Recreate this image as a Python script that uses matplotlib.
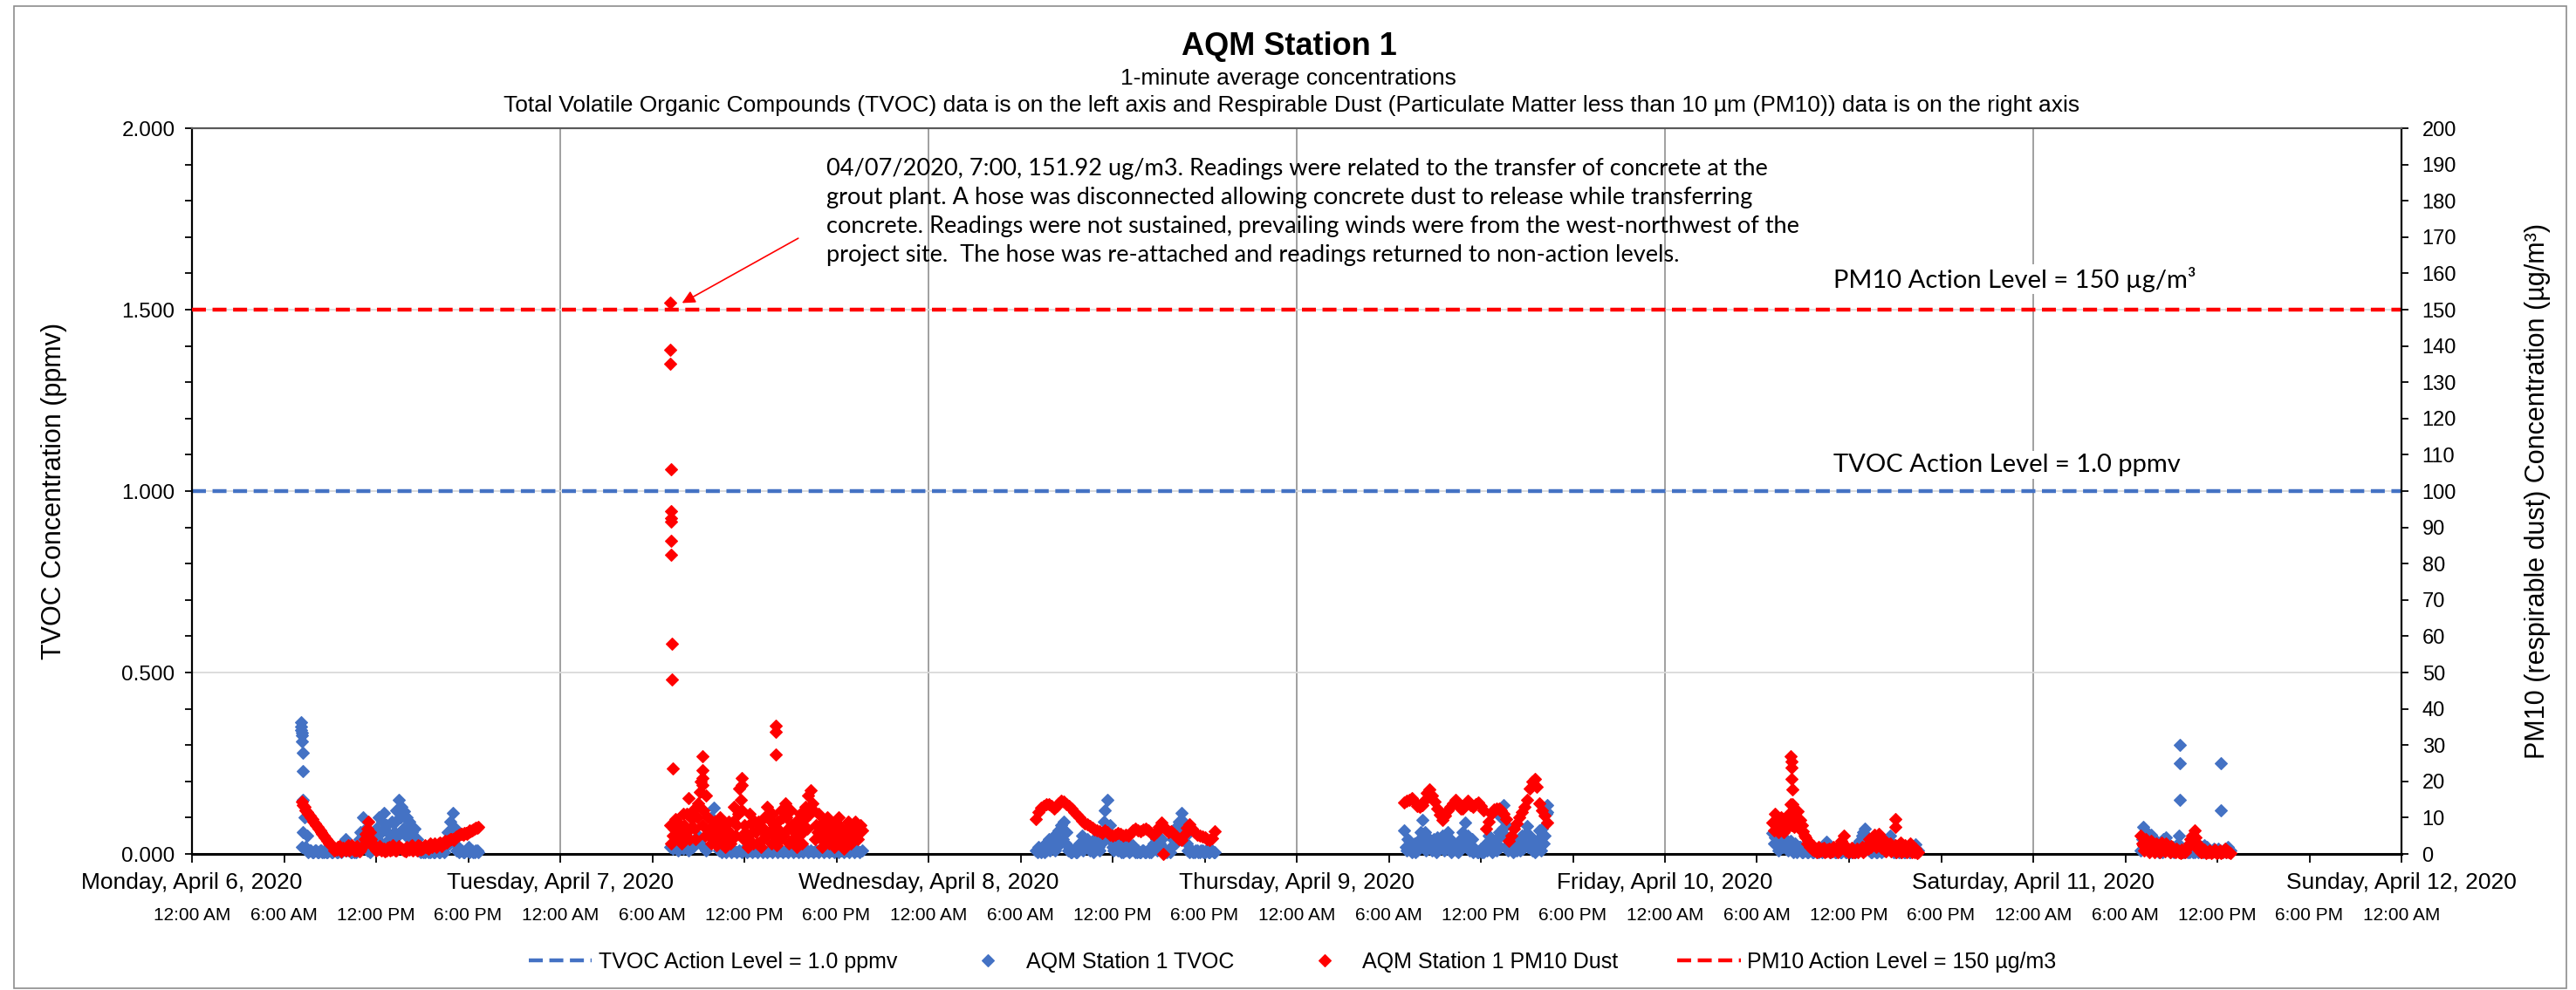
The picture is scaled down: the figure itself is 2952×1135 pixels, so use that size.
import matplotlib
matplotlib.use('Agg')
import matplotlib.pyplot as plt
import matplotlib.transforms as mtransforms
from matplotlib.lines import Line2D
from matplotlib.patches import Rectangle
import numpy as np

plt.rcParams['font.family'] = ['Liberation Sans', 'DejaVu Sans']
note_font = ['Lato', 'DejaVu Sans']

BLUE = '#4472C4'
RED = '#FF0000'

# ---- axis text ----
day_names = ['Monday, April 6, 2020', 'Tuesday, April 7, 2020', 'Wednesday, April 8, 2020',
             'Thursday, April 9, 2020', 'Friday, April 10, 2020', 'Saturday, April 11, 2020',
             'Sunday, April 12, 2020']
time_labels = ['12:00 AM', '6:00 AM', '12:00 PM', '6:00 PM'] * 6 + ['12:00 AM']

tvoc_action = 1.0
pm_action = 150

# ---- readings, 10 minute steps per day (hours from that day's midnight) ----
# the *_mid lists sit 5 minutes after each value of the main list
pm_start = [7 + 10 / 60, 7 + 10 / 60, 7.0, 7.0, 7.0, 7.0]
tvoc_start = [7 + 10 / 60, 7 + 10 / 60, 7.0, 7.0, 7.0, 7.0]

pm_apr6 = [14.5, 13, 11.5, 10.5, 9.5, 8.5, 7.5, 6.5, 5.5, 4.5, 3.5, 3, 2.2, 1.5, 2, 1.2, 1.8, 1, 2.5, 1.5,
           2, 1, 1.8, 1.2, 2.5, 5.5, 9, 4, 2, 1, 1.8, 1, 1.5, 1, 2, 1.2, 1.8, 1, 2.2, 1.5,
           1, 2, 1.2, 2.5, 1.5, 1, 2.2, 1.5, 2.5, 1.8, 2.8, 2, 3, 2.5, 3.2, 2.8, 3.5, 3.5, 4, 4,
           4.5, 5, 5.5, 5.2, 5.8, 6, 6.2, 6.8, 7.2, 7.5]
pm_apr6_mid = [13.5, 12, 11, 10, 9, 8, 7, 6, 5, 4, 3, 2.5, 1, 1.2, 2.2, 0.8, 1.5, 2, 1, 2.5,
               1, 2.2, 0.8, 2, 4, 7, 6, 3, 1.5, 1.2, 2.2, 1.5, 0.8, 1.8, 1, 2.5, 1, 1.5, 1.8, 1.2,
               0.8, 1.5, 2.2, 1, 1.8, 2.5, 1.2, 1.8, 2, 1.5, 2.2, 2.5, 2, 3, 2.2, 3, 3.2, 3.8, 4.2, 3.8,
               4.8, 5.2, 5.5, 5.8, 5.5, 6.5, 6.5, 7, 7.3]
pm_apr7 = [8, 5, 9.5, 4, 6, 11, 5, 15.5, 7, 12, 4, 14, 20, 12, 16, 5, 3, 6, 2.5, 7,
           3, 8, 4, 9, 5, 13, 8, 18, 12, 8, 4, 11, 6, 9, 3, 7, 4, 10, 13, 6,
           11, 5, 9, 4, 10, 14, 7, 12, 4, 9, 5, 11, 6, 13, 16, 17.5, 12, 8, 11, 4,
           9, 7, 3, 8, 2, 6, 10, 5, 1.5, 7, 5, 8, 6, 7, 6, 6.5]
pm_apr7_mid = [3, 7, 6.5, 8.5, 3, 8, 11, 4, 9.5, 7, 10, 17, 8, 5, 10, 7, 4.5, 9, 5, 10,
               5.5, 2, 6.5, 3, 9, 5, 11, 15, 4, 6, 2, 8.5, 3, 6, 9, 2, 7, 5, 9.5, 3,
               8, 2.5, 6.5, 12, 5, 10, 3, 8, 6, 2, 8, 3, 9.5, 7, 11, 14, 4, 6, 8, 2,
               4.5, 10, 5.5, 4, 9, 3, 7.5, 3, 4.5, 9, 3, 5, 9, 4, 8]
pm_apr8 = [9.5, 11.5, 12.8, 13.2, 13.8, 13.8, 13.2, 12.6, 13.2, 14.0, 14.6, 14.4, 13.8, 13.3, 12.5,
           11.6, 10.8, 10, 9.2, 8.4, 8.2, 7.6, 7.2, 6.8, 6.5, 6.2, 5.8, 6.5, 6, 5.4,
           5, 5.2, 5.8, 5.6, 5, 5.4, 5, 5.8, 6.4, 7, 6.6, 6.2, 6.8, 7, 6.4,
           5.8, 5.4, 6, 7.4, 8.6, 7.4, 6.6, 6, 6.2, 5.6, 4.8, 4.2, 3.8, 5.2, 7.2,
           8.2, 7, 6, 5.4, 5, 4.8, 4.6, 4.2, 3.8, 4.4, 6.2]
pm_apr9 = [14.2, 14.6, 14.8, 15.4, 14.5, 13.2, 13, 13.4, 15, 16.8, 17.8, 16, 14.5, 12.5, 10.8,
           9.4, 10.5, 12, 13, 14, 15, 14, 12.6, 12.5, 13.8, 14.6, 13.5, 13, 13.8, 14.2,
           13.2, 12, 7, 8.8, 11, 12.2, 12.4, 12.6, 12, 11, 9.5, 3.5, 5, 7, 8.5,
           10, 11.5, 13, 15, 18, 20, 20.6, 18.5, 14, 12, 10.5, 8.6]
pm_apr10 = [8.6, 11, 10, 8.5, 7.8, 9, 8.5, 13.8, 10.5, 9.5, 11.8, 9.4, 6.2, 4.5, 3.5,
            2.5, 2.2, 1.5, 2, 1, 1.8, 0.8, 1.5, 1, 2, 1.2, 2.5, 3.5, 5, 2,
            1, 1.8, 0.6, 1.5, 1, 2, 1, 2.5, 4, 3, 5.4, 3.5, 4.5, 2.5, 3.5,
            1.5, 3, 1.5, 2.5, 1, 3.2, 1.5, 2.5, 1, 2.8, 0.8, 1.5, 0.5]
pm_apr10_mid = [6.5, 9, 6, 10, 6, 7, 11, 8, 7.5, 8, 7, 8, 5, 3, 2, 1.2, 1, 0.5, 0.8, 1.5,
                0.5, 1.2, 0.4, 0.8, 1.5, 0.5, 1.8, 2.5, 1, 0.6, 0.8, 0.4, 1, 0.5, 1.2, 0.6, 2, 1.5, 2, 4.2,
                2, 5.5, 1.8, 2.5, 0.8, 2, 0.7, 1.5, 0.4, 1.8, 0.6, 1, 0.5, 1.5, 0.4, 0.6, 0.3]
pm_apr11 = [5, 2.5, 4, 1.5, 3.5, 1.2, 3, 1, 3.2, 1.5, 2.8, 1, 2.2, 0.8, 1.5, 0.5, 1.2, 0.8,
            1.5, 3, 5, 6.5, 3, 1, 0.5, 1.2, 0.5, 1, 0.4, 1.2, 0.5, 1, 0.4, 1.4, 0.8, 0.3]
pm_apr11_mid = [3, 1, 2.5, 0.5, 2, 0.5, 2, 0.5, 2, 0.8, 1.5, 0.5, 1.5, 0.4, 1, 0.3, 0.6, 0.4, 2, 4,
                3.5, 4.5, 1.5, 0.4, 0.8, 0.3, 0.6, 0.2, 0.7, 0.3, 0.6, 0.2, 0.8, 0.4, 0.6]

tvoc_apr6 = [0.02, 0.10, 0.05, 0.01, 0.005, 0.01, 0.005, 0.01, 0.005, 0.01,
             0.005, 0.01, 0.005, 0.01, 0.005, 0.02, 0.03, 0.042, 0.02, 0.005,
             0.01, 0.005, 0.02, 0.06, 0.10, 0.07, 0.03, 0.01, 0.04, 0.07,
             0.10, 0.06, 0.114, 0.08, 0.04, 0.09, 0.06, 0.12, 0.148, 0.13,
             0.118, 0.10, 0.09, 0.06, 0.07, 0.04, 0.02, 0.01, 0.005, 0.01,
             0.005, 0.01, 0.005, 0.01, 0.005, 0.01, 0.02, 0.06, 0.09, 0.114,
             0.07, 0.02, 0.01, 0.005, 0.01, 0.02, 0.01, 0.005, 0.01, 0.005]
tvoc_apr6_mid = [0.06, 0.02, 0.005, 0.01, 0.005, 0.01, 0.005, 0.01, 0.005, 0.005,
                 0.01, 0.005, 0.01, 0.005, 0.01, 0.005, 0.02, 0.01, 0.01, 0.005,
                 0.005, 0.01, 0.04, 0.02, 0.05, 0.01, 0.005, 0.02, 0.03, 0.04,
                 0.02, 0.09, 0.03, 0.06, 0.02, 0.04, 0.09, 0.05, 0.10, 0.07,
                 0.05, 0.07, 0.03, 0.04, 0.02, 0.01, 0.005, 0.005, 0.01, 0.005,
                 0.01, 0.005, 0.01, 0.005, 0.01, 0.005, 0.04, 0.03, 0.06, 0.04,
                 0.01, 0.005, 0.01, 0.005, 0.01, 0.005, 0.01, 0.005, 0.01]
tvoc_apr7 = [0.02, 0.015, 0.025, 0.01, 0.02, 0.015, 0.02, 0.01, 0.015, 0.02,
             0.03, 0.05, 0.04, 0.02, 0.01, 0.06, 0.10, 0.128, 0.05, 0.01,
             0.005, 0.01, 0.005, 0.015, 0.005, 0.01, 0.005, 0.01, 0.005, 0.015,
             0.005, 0.01, 0.005, 0.01, 0.005, 0.015, 0.005, 0.01, 0.005, 0.01,
             0.005, 0.015, 0.005, 0.01, 0.005, 0.01, 0.005, 0.015, 0.005, 0.01,
             0.005, 0.01, 0.005, 0.015, 0.005, 0.01, 0.005, 0.01, 0.005, 0.015,
             0.005, 0.01, 0.005, 0.01, 0.005, 0.015, 0.005, 0.01, 0.005, 0.01,
             0.005, 0.015, 0.005, 0.01, 0.005, 0.01]
tvoc_apr8 = [0.01, 0.02, 0.005, 0.025, 0.01, 0.04, 0.02, 0.05, 0.03, 0.065,
             0.08, 0.09, 0.06, 0.02, 0.005, 0.01, 0.005, 0.03, 0.05, 0.02,
             0.04, 0.01, 0.035, 0.02, 0.04, 0.01, 0.05, 0.12, 0.15, 0.08,
             0.02, 0.04, 0.01, 0.03, 0.005, 0.01, 0.03, 0.01, 0.025, 0.005,
             0.01, 0.005, 0.01, 0.005, 0.01, 0.005, 0.03, 0.04, 0.02, 0.04,
             0.01, 0.005, 0.01, 0.02, 0.06, 0.075, 0.09, 0.114, 0.07, 0.03,
             0.005, 0.01, 0.005, 0.01, 0.005, 0.01, 0.005, 0.01, 0.005, 0.01, 0.005]
tvoc_apr8_mid = [0.005, 0.01, 0.015, 0.005, 0.02, 0.01, 0.03, 0.01, 0.04, 0.03,
                 0.04, 0.03, 0.01, 0.005, 0.01, 0.005, 0.015, 0.02, 0.01, 0.03,
                 0.02, 0.025, 0.005, 0.03, 0.02, 0.03, 0.09, 0.07, 0.04, 0.05,
                 0.01, 0.02, 0.015, 0.005, 0.02, 0.015, 0.005, 0.015, 0.01, 0.005,
                 0.005, 0.01, 0.005, 0.01, 0.005, 0.015, 0.02, 0.01, 0.03, 0.02,
                 0.005, 0.01, 0.005, 0.04, 0.03, 0.05, 0.06, 0.09, 0.05, 0.01,
                 0.01, 0.005, 0.01, 0.005, 0.01, 0.005, 0.01, 0.005, 0.01, 0.005]
tvoc_apr9 = [0.066, 0.01, 0.035, 0.005, 0.03, 0.01, 0.04, 0.094, 0.06, 0.02,
             0.04, 0.01, 0.03, 0.045, 0.02, 0.05, 0.03, 0.06, 0.04, 0.015,
             0.02, 0.005, 0.04, 0.06, 0.086, 0.05, 0.02, 0.005, 0.01, 0.005,
             0.015, 0.005, 0.03, 0.05, 0.04, 0.02, 0.01, 0.06, 0.1, 0.134,
             0.08, 0.03, 0.02, 0.04, 0.01, 0.035, 0.05, 0.03, 0.078, 0.05,
             0.01, 0.005, 0.03, 0.065, 0.07, 0.05, 0.134]
tvoc_apr9_mid = [0.02, 0.04, 0.015, 0.02, 0.005, 0.025, 0.06, 0.03, 0.01, 0.03,
                 0.02, 0.04, 0.005, 0.015, 0.035, 0.01, 0.045, 0.02, 0.005, 0.03,
                 0.01, 0.025, 0.02, 0.035, 0.03, 0.01, 0.04, 0.015, 0.005, 0.01,
                 0.005, 0.02, 0.01, 0.025, 0.005, 0.035, 0.04, 0.02, 0.07, 0.05,
                 0.01, 0.045, 0.005, 0.025, 0.02, 0.01, 0.015, 0.055, 0.02, 0.03,
                 0.02, 0.015, 0.04, 0.01, 0.03, 0.11]
tvoc_apr10 = [0.058, 0.045, 0.03, 0.05, 0.02, 0.04, 0.01, 0.035, 0.005, 0.03,
              0.01, 0.02, 0.005, 0.01, 0.005, 0.015, 0.005, 0.01, 0.005, 0.015,
              0.01, 0.034, 0.02, 0.005, 0.01, 0.005, 0.015, 0.005, 0.01, 0.005,
              0.01, 0.005, 0.02, 0.01, 0.035, 0.05, 0.07, 0.03, 0.01, 0.005,
              0.015, 0.005, 0.01, 0.02, 0.01, 0.03, 0.05, 0.02, 0.005, 0.01,
              0.005, 0.015, 0.005, 0.01, 0.005, 0.015, 0.026, 0.01]
tvoc_apr10_mid = [0.03, 0.06, 0.01, 0.025, 0.045, 0.015, 0.025, 0.02, 0.015, 0.005,
                  0.02, 0.005, 0.01, 0.005, 0.01, 0.005, 0.01, 0.005, 0.01, 0.005,
                  0.02, 0.015, 0.005, 0.01, 0.005, 0.01, 0.005, 0.015, 0.005, 0.01,
                  0.005, 0.01, 0.005, 0.025, 0.02, 0.06, 0.04, 0.015, 0.005, 0.01,
                  0.005, 0.01, 0.005, 0.01, 0.02, 0.04, 0.01, 0.005, 0.015, 0.005,
                  0.01, 0.005, 0.01, 0.005, 0.02, 0.015, 0.005]
tvoc_apr11 = [0.01, 0.074, 0.04, 0.02, 0.054, 0.01, 0.03, 0.005, 0.02, 0.04,
              0.046, 0.02, 0.01, 0.005, 0.015, 0.05, 0.01, 0.005, 0.01, 0.005,
              0.01, 0.005, 0.015, 0.025, 0.02, 0.025, 0.02, 0.01, 0.005, 0.01,
              0.005, 0.01, 0.005, 0.015, 0.02, 0.01]
tvoc_apr11_mid = [0.04, 0.02, 0.06, 0.01, 0.02, 0.04, 0.01, 0.03, 0.005, 0.025,
                  0.03, 0.005, 0.02, 0.01, 0.03, 0.02, 0.005, 0.015, 0.005, 0.015,
                  0.005, 0.01, 0.005, 0.02, 0.005, 0.015, 0.01, 0.005, 0.015, 0.005,
                  0.015, 0.005, 0.01, 0.005, 0.01]

# ---- single minute readings that stand out (hours since Apr 6 00:00) ----
pm_peak_hours = [31.15, 31.15, 31.17, 31.2, 31.25, 31.23, 31.23, 31.25, 31.22, 31.3, 31.3, 31.32,
                 33.27, 33.27, 33.27, 33.27, 35.85, 35.85, 38.05, 38.05, 38.05,
                 63.28,
                 104.2, 104.22, 104.25, 104.27, 104.3, 104.33, 104.35, 111.0, 111.02]
pm_peak_vals = [151.92, 139, 135, 106, 94.5, 92.6, 91.5, 86.3, 82.4, 58, 48, 23.5,
                27, 23, 21, 19, 21, 19, 35.4, 33.6, 27.4,
                0.0,
                27, 25.4, 23.8, 20.6, 17.8, 13.8, 11.8, 9.6, 7.4]
tvoc_peak_hours = [7.1, 7.12, 7.13, 7.15, 7.17, 7.18, 7.2, 7.22, 7.23,
                   88.3, 129.56, 129.56, 129.56, 132.22, 132.22]
tvoc_peak_vals = [0.362, 0.352, 0.342, 0.334, 0.326, 0.31, 0.278, 0.228, 0.15,
                  0.115, 0.30, 0.25, 0.15, 0.25, 0.12]

pm_days = [pm_apr6, pm_apr7, pm_apr8, pm_apr9, pm_apr10, pm_apr11]
pm_days_mid = [pm_apr6_mid, pm_apr7_mid, [], [], pm_apr10_mid, pm_apr11_mid]
tvoc_days = [tvoc_apr6, tvoc_apr7, tvoc_apr8, tvoc_apr9, tvoc_apr10, tvoc_apr11]
tvoc_days_mid = [tvoc_apr6_mid, [], tvoc_apr8_mid, tvoc_apr9_mid, tvoc_apr10_mid, tvoc_apr11_mid]


def day_series(days, mids, starts, extra_h, extra_v):
    xs, ys = [], []
    for d, (vals, mid, st) in enumerate(zip(days, mids, starts)):
        xs.extend(d * 24 + st + np.arange(len(vals)) / 6.0)
        ys.extend(vals)
        xs.extend(d * 24 + st + 1 / 12 + np.arange(len(mid)) / 6.0)
        ys.extend(mid)
    xs.extend(extra_h)
    ys.extend(extra_v)
    return np.array(xs), np.array(ys)


pm_x, pm_y = day_series(pm_days, pm_days_mid, pm_start, pm_peak_hours, pm_peak_vals)
tv_x, tv_y = day_series(tvoc_days, tvoc_days_mid, tvoc_start, tvoc_peak_hours, tvoc_peak_vals)

W, H = 2952, 1135
fig = plt.figure(figsize=(W / 100, H / 100), dpi=100)
fig.patches.append(Rectangle((16 / W, 2 / H), (2941 - 16) / W, (1128 - 2) / H, transform=fig.transFigure,
                             fill=False, edgecolor='#8C8C8C', linewidth=1.2))

ax = fig.add_axes([220 / W, (H - 979) / H, (2752 - 220) / W, (979 - 147) / H])
ax2 = ax.twinx()

# grid
ax.set_ylim(0, 2.0)
ax.set_xlim(0, 144)
ax.set_yticks([0, 0.5, 1.0, 1.5, 2.0])
ax.set_yticks(np.arange(0, 2.001, 0.1), minor=True)
ax.yaxis.grid(True, color='#D9D9D9', linewidth=1.3, zorder=0)
for d in range(1, 6):
    ax.axvline(d * 24, color='#A0A0A0', linewidth=1.4, zorder=0.5)
ax.set_axisbelow(True)

# action levels
dash = (0, (3.6, 1.7))
ax.axhline(tvoc_action, color=BLUE, linewidth=3.2, linestyle=dash, zorder=1)
ax2.axhline(pm_action, color=RED, linewidth=3.2, linestyle=dash, zorder=1)

# readings
ms, mew = 7.0, 0.8
ax.plot(tv_x, tv_y, linestyle='None', marker='D', markersize=ms, markeredgewidth=mew,
        color=BLUE, zorder=3, clip_on=False)
ax2.plot(pm_x, pm_y, linestyle='None', marker='D', markersize=ms, markeredgewidth=mew,
         color=RED, zorder=3, clip_on=False)

# x axis
ax.set_xticks(np.arange(0, 145, 6))
ax.set_xticklabels(time_labels, fontsize=15)
ax.tick_params(axis='x', length=7, width=1.3, pad=37, direction='out')
trans = mtransforms.blended_transform_factory(ax.transData, ax.transAxes)
for d, name in enumerate(day_names):
    ax.text(d * 24, -0.040, name, transform=trans, ha='center', va='center', fontsize=19)

# left axis
ax.yaxis.set_major_formatter(matplotlib.ticker.FormatStrFormatter('%.3f'))
ax.tick_params(axis='y', which='both', length=6, width=1.3, labelsize=17.5, pad=8)
ax.set_ylabel('TVOC Concentration (ppmv)', fontsize=22)
ax.yaxis.set_label_coords((62 - 220) / 2532, 0.5)
ax.yaxis.label.set_verticalalignment('center')

# right axis
ax2.set_ylim(0, 200)
ax2.set_yticks(np.arange(0, 201, 10))
ax2.tick_params(axis='y', length=6, width=1.3, labelsize=17, pad=11)
ax2.set_ylabel('PM10 (respirable dust) Concentration (\u00b5g/m\u00b3)', fontsize=22)
ax2.yaxis.set_label_coords((2908 - 220) / 2532, 0.5)
ax2.yaxis.label.set_verticalalignment('center')

for a in (ax, ax2):
    a.spines['top'].set_color('#595959')
    a.spines['top'].set_linewidth(1.5)
ax.spines['left'].set_linewidth(1.6)
ax.spines['bottom'].set_linewidth(2.2)
ax2.spines['right'].set_linewidth(1.6)
ax.spines['right'].set_visible(False)
ax2.spines['left'].set_visible(False)
ax2.spines['bottom'].set_visible(False)

# titles
fig.text(0.5003, 1 - 63 / H, 'AQM Station 1', ha='center', va='baseline', fontsize=26, fontweight='bold')
fig.text(0.5003, 1 - 97 / H, '1-minute average concentrations', ha='center', va='baseline', fontsize=19)
fig.text(0.5013, 1 - 128 / H,
         'Total Volatile Organic Compounds (TVOC) data is on the left axis and Respirable Dust '
         '(Particulate Matter less than 10 \u00b5m (PM10)) data is on the right axis',
         ha='center', va='baseline', fontsize=19)

# notes
note = ('04/07/2020, 7:00, 151.92 ug/m3. Readings were related to the transfer of concrete at the\n'
        'grout plant. A hose was disconnected allowing concrete dust to release while transferring\n'
        'concrete. Readings were not sustained, prevailing winds were from the west-northwest of the\n'
        'project site.  The hose was re-attached and readings returned to non-action levels.')
fig.text(947 / W, 1 - 243 / H, note, ha='left', va='center', fontsize=19.5, family=note_font,
         linespacing=1.4)
ax2.annotate('', xy=(31.8, 151.5), xytext=(39.65, 170),
             arrowprops=dict(arrowstyle='-|>', color=RED, lw=1.2, mutation_scale=22))
ax2.text(107.0, 158.4, 'PM10 Action Level = 150 \u00b5g/m\u00b3', ha='left', va='center', fontsize=21,
         family=note_font, zorder=2, bbox=dict(facecolor='white', edgecolor='none', pad=2))
ax2.text(107.0, 107.2, 'TVOC Action Level = 1.0 ppmv', ha='left', va='center', fontsize=21,
         family=note_font, zorder=2, bbox=dict(facecolor='white', edgecolor='none', pad=2))

# legend
handles = [Line2D([], [], color=BLUE, linewidth=3.2, linestyle=dash),
           Line2D([], [], linestyle='None', marker='D', markersize=ms, markeredgewidth=mew, color=BLUE),
           Line2D([], [], linestyle='None', marker='D', markersize=ms, markeredgewidth=mew, color=RED),
           Line2D([], [], color=RED, linewidth=3.2, linestyle=dash)]
labels = ['TVOC Action Level = 1.0 ppmv', 'AQM Station 1 TVOC', 'AQM Station 1 PM10 Dust',
          'PM10 Action Level = 150 \u00b5g/m3']
fig.legend(handles, labels, loc='center', bbox_to_anchor=(1481 / W, 1 - 1103 / H), ncol=4,
           frameon=False, fontsize=18, handlelength=2.9, handletextpad=0.3, columnspacing=2.7)

fig.savefig('out.png', dpi=100)
